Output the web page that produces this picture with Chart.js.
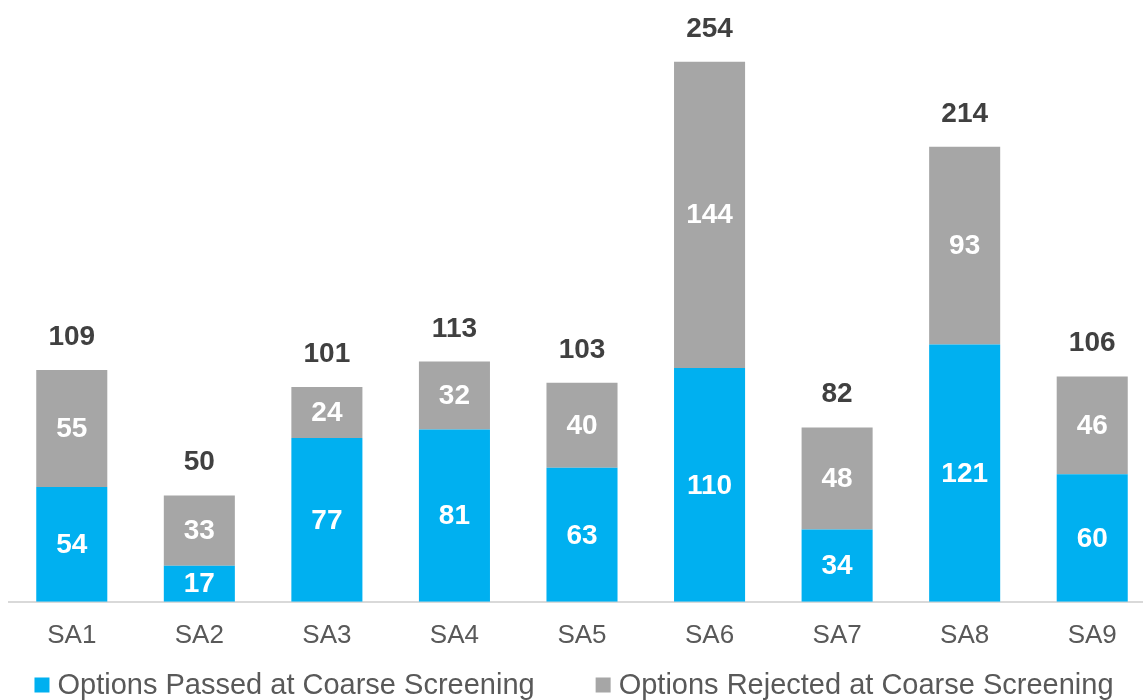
<!DOCTYPE html>
<html>
<head>
<meta charset="utf-8">
<script src="https://cdn.jsdelivr.net/npm/chart.js@4.4.1/dist/chart.umd.min.js"></script>
<style>
html,body{margin:0;padding:0;background:#fff;overflow:hidden;}
#wrap{position:absolute;left:8px;top:0;width:1148px;height:700px;}
</style>
</head>
<body>
<div id="wrap"><canvas id="c"></canvas></div>
<script>
const categories = ["SA1","SA2","SA3","SA4","SA5","SA6","SA7","SA8","SA9"];
const passed = [54,17,77,81,63,110,34,121,60];
const rejected = [55,33,24,32,40,144,48,93,46];
const seriesNames = ["Options Passed at Coarse Screening","Options Rejected at Coarse Screening"];
const seriesColors = ["#00B0F0","#A6A6A6"];

const FONT = "'Liberation Sans', Arial, sans-serif";

const labelPlugin = {
  id: 'labels',
  afterDatasetsDraw(chart) {
    const ctx = chart.ctx;
    ctx.save();
    ctx.textAlign = 'center';
    ctx.textBaseline = 'middle';
    ctx.font = "bold 28px " + FONT;
    chart.data.datasets.forEach((ds, di) => {
      const meta = chart.getDatasetMeta(di);
      meta.data.forEach((bar, i) => {
        const top = Math.min(bar.y, bar.base), bot = Math.max(bar.y, bar.base);
        ctx.fillStyle = '#FFFFFF';
        ctx.fillText(String(ds.data[i]), bar.x, (top + bot) / 2 + 1);
      });
    });
    const topMeta = chart.getDatasetMeta(chart.data.datasets.length - 1);
    ctx.fillStyle = '#404040';
    ctx.textBaseline = 'alphabetic';
    topMeta.data.forEach((bar, i) => {
      const total = chart.data.datasets.reduce((s, d) => s + d.data[i], 0);
      ctx.fillText(String(total), bar.x, bar.y - 25);
    });
    ctx.restore();
  },
  afterDraw(chart) {
    const ctx = chart.ctx;
    ctx.save();
    ctx.font = "29px " + FONT;
    ctx.textBaseline = 'middle';
    ctx.textAlign = 'left';
    const box = 15, gapText = 8, gapItem = 61;
    const items = chart.data.datasets.map(d => ({ text: d.label, color: d.backgroundColor, w: ctx.measureText(d.label).width }));
    const total = items.reduce((s, it) => s + box + gapText + it.w, 0) + gapItem * (items.length - 1);
    let x = chart.width / 2 - total / 2 - 8;
    const cy = 685;
    items.forEach(it => {
      ctx.fillStyle = it.color;
      ctx.fillRect(x, cy - box / 2, box, box);
      ctx.fillStyle = '#595959';
      ctx.fillText(it.text, x + box + gapText, cy + 1);
      x += box + gapText + it.w + gapItem;
    });
    ctx.restore();
  }
};

new Chart(document.getElementById('c'), {
  type: 'bar',
  data: {
    labels: categories,
    datasets: [
      { label: seriesNames[0], data: passed, backgroundColor: seriesColors[0], barPercentage: 0.557, categoryPercentage: 1 },
      { label: seriesNames[1], data: rejected, backgroundColor: seriesColors[1], barPercentage: 0.557, categoryPercentage: 1 }
    ]
  },
  options: {
    responsive: true,
    maintainAspectRatio: false,
    animation: false,
    layout: { padding: { top: 0, bottom: 31, left: 0, right: 0 } },
    scales: {
      x: {
        stacked: true,
        grid: { display: false, drawTicks: false },
        border: { display: true, color: '#D9D9D9', width: 2 },
        ticks: { color: '#595959', font: { family: FONT, size: 26 }, padding: 18 }
      },
      y: {
        stacked: true,
        display: false,
        min: 0,
        max: 283
      }
    },
    plugins: {
      legend: { display: false },
      tooltip: { enabled: false }
    }
  },
  plugins: [labelPlugin]
});
</script>
</body>
</html>
